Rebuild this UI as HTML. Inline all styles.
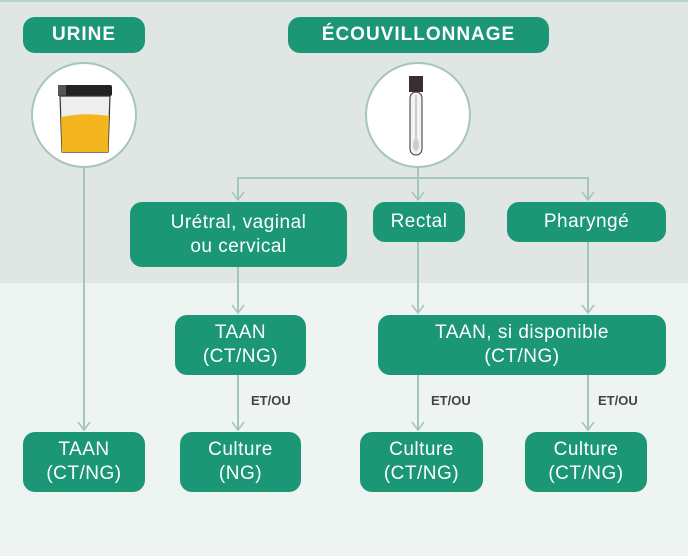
<!DOCTYPE html>
<html><head><meta charset="utf-8"><style>
body{margin:0;width:688px;height:556px;overflow:hidden;background:#eef4f1;font-family:"Liberation Sans",sans-serif}
.top{position:absolute;left:0;top:0;width:688px;height:283px;background:#e0e6e3;border-top:2px solid #b5d3c6;box-sizing:border-box}
.b{position:absolute;background:#1b9776;color:#fff;border-radius:12px;display:flex;align-items:center;justify-content:center;text-align:center;font-size:19px;line-height:24px;letter-spacing:0.5px}
.p{font-weight:bold;font-size:19px;letter-spacing:1px}
.lbl{position:absolute;font-size:13px;font-weight:bold;color:#444}
svg{position:absolute;left:0;top:0}
</style></head><body>
<div class="top"></div>
<svg width="688" height="556">
<g stroke="#a7c6ba" stroke-width="2" fill="none">
<line x1="84" y1="167" x2="84" y2="430"/>
<polyline points="238,200 238,178 588,178 588,200"/>
<line x1="418" y1="167" x2="418" y2="200"/>
<line x1="238" y1="267" x2="238" y2="313"/>
<line x1="418" y1="242" x2="418" y2="313"/>
<line x1="588" y1="242" x2="588" y2="313"/>
<line x1="238" y1="375" x2="238" y2="430"/>
<line x1="418" y1="375" x2="418" y2="430"/>
<line x1="588" y1="375" x2="588" y2="430"/>
<g stroke-width="1.6">
<polyline points="78,422 84,430 90,422"/>
<polyline points="232,192 238,200 244,192"/><polyline points="412,192 418,200 424,192"/><polyline points="582,192 588,200 594,192"/>
<polyline points="232,305 238,313 244,305"/><polyline points="412,305 418,313 424,305"/><polyline points="582,305 588,313 594,305"/>
<polyline points="232,422 238,430 244,422"/><polyline points="412,422 418,430 424,422"/><polyline points="582,422 588,430 594,422"/>
</g></g>
<circle cx="84" cy="115" r="52" fill="#fff" stroke="#a7c6ba" stroke-width="2"/>
<circle cx="418" cy="115" r="52" fill="#fff" stroke="#a7c6ba" stroke-width="2"/>
<rect x="58" y="85" width="54" height="11" rx="2" fill="#222"/>
<rect x="58" y="85" width="8" height="11" fill="#555"/>
<path d="M60 96 L110 96 L108 152 L62 152 Z" fill="#eee" stroke="#333" stroke-width="1.2"/>
<path d="M61 117 Q85 112 109 116 L108 152 L62 152 Z" fill="#f4b51e"/>
<rect x="409" y="76" width="14" height="16" fill="#3a2e2e"/>
<rect x="410" y="92" width="12" height="63" rx="6" fill="#f2f2f2" stroke="#333" stroke-width="1"/>
<line x1="416" y1="95" x2="416" y2="140" stroke="#ccc" stroke-width="2"/>
<ellipse cx="416" cy="145" rx="3" ry="6" fill="#ccc"/>
</svg>
<div class="b p" style="left:23px;top:17px;width:122px;height:36px">URINE</div>
<div class="b p" style="left:288px;top:17px;width:261px;height:36px">ÉCOUVILLONNAGE</div>
<div class="b" style="left:130px;top:202px;width:217px;height:65px">Urétral, vaginal<br>ou cervical</div>
<div class="b" style="left:373px;top:202px;width:92px;height:40px">Rectal</div>
<div class="b" style="left:507px;top:202px;width:159px;height:40px">Pharyngé</div>
<div class="b" style="left:175px;top:315px;width:131px;height:60px">TAAN<br>(CT/NG)</div>
<div class="b" style="left:378px;top:315px;width:288px;height:60px">TAAN, si disponible<br>(CT/NG)</div>
<div class="b" style="left:23px;top:432px;width:122px;height:60px">TAAN<br>(CT/NG)</div>
<div class="b" style="left:180px;top:432px;width:121px;height:60px">Culture<br>(NG)</div>
<div class="b" style="left:360px;top:432px;width:123px;height:60px">Culture<br>(CT/NG)</div>
<div class="b" style="left:525px;top:432px;width:122px;height:60px">Culture<br>(CT/NG)</div>
<div class="lbl" style="left:251px;top:393px">ET/OU</div>
<div class="lbl" style="left:431px;top:393px">ET/OU</div>
<div class="lbl" style="left:598px;top:393px">ET/OU</div>
</body></html>
